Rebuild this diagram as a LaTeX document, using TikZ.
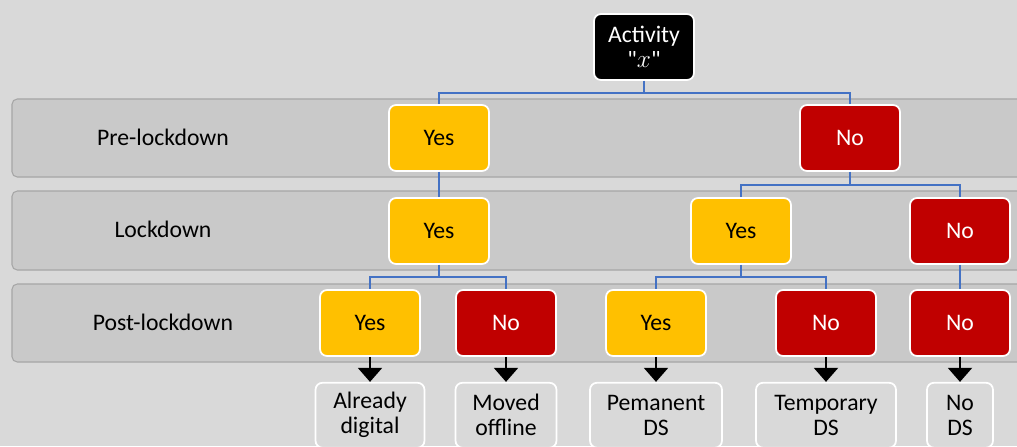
\documentclass[tikz,border=0pt]{standalone}
\usepackage{fontspec}
\setmainfont{Carlito}
\newfontfamily\plainfont{Carlito}
\usetikzlibrary{positioning, arrows.meta}
\definecolor{bg}{HTML}{D9D9D9}
\definecolor{bandfill}{HTML}{C9C9C9}
\definecolor{bandline}{HTML}{A6A6A6}
\definecolor{yesfill}{HTML}{FFC000}
\definecolor{nofill}{HTML}{C00000}
\definecolor{linkblue}{HTML}{4472C4}

\tikzset{
  box/.style={draw=white, line width=1pt, rounded corners=4pt, align=center,
    minimum width=2cm, minimum height=1.32cm, font=\fontsize{13.5}{14.2}\selectfont},
  yes/.style={box, fill=yesfill, text=black},
  no/.style={box, fill=nofill, text=white},
  root/.style={box, fill=black, text=white},
  outcome/.style={box, fill=bg, text=black, minimum height=1.3cm},
  band/.style={draw=bandline, fill=bandfill, line width=0.6pt, rounded corners=3pt},
  link/.style={draw=linkblue, line width=1.1pt},
  arr/.style={-{Triangle[width=0.48cm,length=0.28cm]}, line width=1.2pt}
}

\begin{document}
\begin{tikzpicture}[x=0.02cm, y=-0.02cm, font=\fontsize{13.5}{14.2}\selectfont]
\path[fill=bg, use as bounding box] (0,0) rectangle (1017,446);
\clip (0,0) rectangle (1017,446);
% stage bands
\foreach \t/\b in {99/177, 191/270, 284/362}
  \draw[band] (12,\t) rectangle (1040,\b);
\node (pre) at (163,137) {Pre-lockdown};
\node (lock) at (163,229) {Lockdown};
\node (post) at (163,322) {Post-lockdown};

\node (act) [root] at (644,47) {Activity\\{\plainfont"}$x${\plainfont"}};
\node (y1) [yes] at (439,138) {Yes};
\node (n1) [no] at (850,138) {No};
\node (y2) [yes] at (439,231) {Yes};
\node (y3) [yes] at (741,231) {Yes};
\node (n3) [no] at (960,231) {No};
\node (p1) [yes] at (370,323) {Yes};
\node (p2) [no] at (506,323) {No};
\node (p3) [yes] at (656,323) {Yes};
\node (p4) [no] at (826,323) {No};
\node (p5) [no] at (960,323) {No};

% outcomes
\node (o1) [outcome, below=0.5cm of p1, minimum width=2.18cm] {Already\\digital};
\node (o2) [outcome, below=0.5cm of p2, minimum width=2.02cm] {Moved\\offline};
\node (o3) [outcome, below=0.5cm of p3, minimum width=2.64cm] {Pemanent\\DS};
\node (o4) [outcome, below=0.5cm of p4, minimum width=2.8cm] {Temporary\\DS};
\node (o5) [outcome, below=0.5cm of p5, minimum width=1.32cm] {No\\DS};

\draw[link] (act.south) -- ++(0,12) -| (y1.north);
\draw[link] (act.south) -- ++(0,12) -| (n1.north);
\draw[link] (y1) -- (y2);
\draw[link] (n1.south) -- ++(0,13) -| (y3.north);
\draw[link] (n1.south) -- ++(0,13) -| (n3.north);
\draw[link] (y2.south) -- ++(0,12) -| (p1.north);
\draw[link] (y2.south) -- ++(0,12) -| (p2.north);
\draw[link] (y3.south) -- ++(0,12) -| (p3.north);
\draw[link] (y3.south) -- ++(0,12) -| (p4.north);
\draw[link] (n3) -- (p5);
\draw [arr] (p1) edge (o1) (p2) edge (o2) (p3) edge (o3) (p4) edge (o4) (p5) edge (o5);
\end{tikzpicture}
\end{document}
